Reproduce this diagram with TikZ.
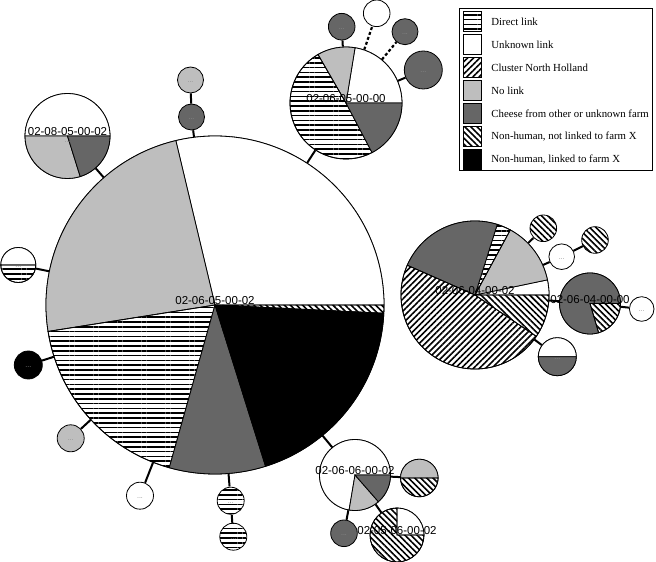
\documentclass[tikz,border=0pt]{standalone}
\usepackage{fontspec}
\setmainfont{Liberation Serif}
\newfontfamily\clusterfont{Liberation Sans}
\usetikzlibrary{positioning, patterns.meta}
\definecolor{LightGrey}{RGB}{190,190,190}
\definecolor{DarkGrey}{RGB}{102,102,102}

% one slice of a pie: node, radius, start angle, end angle, style
\newcommand{\wedgepart}[5]{%
  \filldraw[line width=0.8pt, #5] (#1.center) -- ++(#3:#2)
    arc[start angle=#3, end angle=#4, radius=#2] -- cycle;}

\begin{document}
\begin{tikzpicture}[
    x=1pt, y=1pt,
    pie/.style={circle, draw, line width=0.8pt, inner sep=0pt, minimum size=#1},
    link/.style={line width=2pt},
    weaklink/.style={line width=2.2pt, dash pattern=on 3pt off 2.2pt},
    directlink/.style={pattern={Lines[angle=0, distance=4.8pt, line width=1.5pt]}},
    unknownlink/.style={fill=white},
    nhcluster/.style={pattern={Lines[angle=45, distance=4.3pt, line width=1.6pt]}},
    nolink/.style={fill=LightGrey},
    cheese/.style={fill=DarkGrey},
    nhnot/.style={pattern={Lines[angle=-45, distance=4.3pt, line width=1.6pt]}},
    nhlinked/.style={fill=black},
    clustername/.style={font=\clusterfont\fontsize{11.5}{12}\selectfont, anchor=base, inner sep=0pt},
    elide/.style={font=\clusterfont\fontsize{7}{7}\selectfont, text=black!45, inner sep=0pt},
    swatch/.style={draw, line width=0.8pt, minimum width=18pt, minimum height=20pt, inner sep=0pt},
    keytext/.style={font=\fontsize{10.8}{12}\selectfont, inner sep=0pt}
]
    \useasboundingbox (0,0) rectangle (656,562);

    % Clusters
    \node[pie=338pt] (main) at (215,257) {};
    \node[pie=112pt] (toppie) at (346,459) {};
    \node[pie=85pt] (leftpie) at (67.5,426) {};
    \node[pie=148pt] (rightpie) at (475,267) {};
    \node[pie=61pt] (sidepie) at (590,258.5) {};
    \node[pie=71pt] (botpie) at (355,87) {};
    \node[pie=54pt] (lowpie) at (397,27) {};

    % Single cases
    \node[pie=26pt, nolink] (a1) at (190.5,482) {};
    \node[pie=26pt, cheese] (a2) at (191.5,445) {};
    \node[pie=35pt] (b1) at (18.3,297) {};
    \node[pie=28pt, nhlinked] (b2) at (28.3,197) {};
    \node[pie=27pt, nolink] (b3) at (70.7,123.7) {};
    \node[pie=27pt] (b4) at (140,66.3) {};
    \node[pie=27pt, directlink] (b5) at (230.7,61.3) {};
    \node[pie=27pt, directlink] (b6) at (233.3,25.3) {};
    \node[pie=26.6pt, cheese] (t1) at (341.7,535.3) {};
    \node[pie=26.6pt] (t2) at (376.7,548.7) {};
    \node[pie=26pt, cheese] (t3) at (405,530.3) {};
    \node[pie=38pt, cheese] (t4) at (423.3,492) {};
    \node[pie=26.6pt, nhnot] (r1) at (543.3,333.7) {};
    \node[pie=25.6pt] (r2) at (561.7,305.3) {};
    \node[pie=26.6pt, nhnot] (r3) at (595,322) {};
    \node[pie=24.6pt] (r4) at (641.7,253) {};
    \node[pie=38pt] (r5) at (557.3,205.3) {};
    \node[pie=37.6pt] (u1) at (419.3,84) {};
    \node[pie=26.6pt, cheese] (u2) at (344,28.7) {};

    % Links
    \foreach \a/\b in {main/a2, a2/a1, main/toppie, main/leftpie, main/b1, main/b2,
                       main/b3, main/b4, main/b5, b5/b6, main/botpie,
                       toppie/t1, toppie/t4, rightpie/r1, rightpie/r2, r2/r3,
                       rightpie/sidepie, sidepie/r4, rightpie/r5,
                       botpie/u1, botpie/lowpie, botpie/u2}
        \draw[link] (\a) -- (\b);
    \draw[weaklink] (toppie) -- (t2);
    \draw[weaklink] (toppie) -- (t3);

    % Pie slices
    \wedgepart{main}{169}{0}{103.4}{unknownlink}
    \wedgepart{main}{169}{103.4}{189}{nolink}
    \wedgepart{main}{169}{189}{254.3}{directlink}
    \wedgepart{main}{169}{254.3}{287.4}{cheese}
    \wedgepart{main}{169}{287.4}{357.2}{nhlinked}
    \wedgepart{main}{169}{357.2}{360}{nhnot}

    \wedgepart{toppie}{56}{0}{80.7}{unknownlink}
    \wedgepart{toppie}{56}{80.7}{120}{nolink}
    \wedgepart{toppie}{56}{120}{297.7}{directlink}
    \wedgepart{toppie}{56}{297.7}{360}{cheese}

    \wedgepart{leftpie}{42.5}{0}{180}{unknownlink}
    \wedgepart{leftpie}{42.5}{180}{287.4}{nolink}
    \wedgepart{leftpie}{42.5}{287.4}{360}{cheese}

    \wedgepart{rightpie}{74}{0}{11.8}{unknownlink}
    \wedgepart{rightpie}{74}{11.8}{61.5}{nolink}
    \wedgepart{rightpie}{74}{61.5}{72.5}{directlink}
    \wedgepart{rightpie}{74}{72.5}{156.3}{cheese}
    \wedgepart{rightpie}{74}{156.3}{326}{nhcluster}
    \wedgepart{rightpie}{74}{326}{360}{nhnot}

    \wedgepart{sidepie}{30.5}{0}{286.4}{cheese}
    \wedgepart{sidepie}{30.5}{286.4}{360}{nhnot}

    \wedgepart{botpie}{35.5}{0}{260.4}{unknownlink}
    \wedgepart{botpie}{35.5}{260.4}{311.2}{nolink}
    \wedgepart{botpie}{35.5}{311.2}{360}{cheese}

    \wedgepart{lowpie}{27}{0}{90}{unknownlink}
    \wedgepart{lowpie}{27}{90}{360}{nhnot}

    \wedgepart{b1}{17.5}{0}{180}{unknownlink}
    \wedgepart{b1}{17.5}{180}{360}{directlink}
    \wedgepart{u1}{18.8}{0}{180}{nolink}
    \wedgepart{u1}{18.8}{180}{360}{nhnot}
    \wedgepart{r5}{19}{0}{180}{unknownlink}
    \wedgepart{r5}{19}{180}{360}{cheese}

    % Cluster names
    \node[clustername] at (main) {02-06-05-00-02};
    \node[clustername] at (toppie) {02-06-05-00-00};
    \node[clustername] at (leftpie) {02-08-05-00-02};
    \node[clustername] at (rightpie) {02-06-04-00-02};
    \node[clustername] at (sidepie) {02-06-04-00-00};
    \node[clustername] at (botpie) {02-06-06-00-02};
    \node[clustername] at (lowpie) {02-05-06-00-02};

    \foreach \n in {a1, a2, b1, b2, b3, b4, b5, b6, t1, t3, t4, r2, r4, r5, u2}
        \node[elide] at ([yshift=-2pt]\n.center) {...};
    \node[elide] at ([yshift=-6pt]leftpie.center) {...};

    % Legend
    \draw[line width=0.8pt] (459,392) rectangle (652.7,553.7);
    \node[swatch, directlink] (k1) at (472.5,540.3) {};
    \node[swatch, unknownlink, below=2.2pt of k1] (k2) {};
    \node[swatch, nhcluster, below=2.2pt of k2] (k3) {};
    \node[swatch, nolink, below=2.2pt of k3] (k4) {};
    \node[swatch, cheese, below=2.2pt of k4] (k5) {};
    \node[swatch, nhnot, below=2.2pt of k5] (k6) {};
    \node[swatch, nhlinked, below=2.2pt of k6] (k7) {};
    \node[keytext, right=9.3pt of k1] {Direct link};
    \node[keytext, right=9.3pt of k2] {Unknown link};
    \node[keytext, right=9.3pt of k3] {Cluster North Holland};
    \node[keytext, right=9.3pt of k4] {No link};
    \node[keytext, right=9.3pt of k5] {Cheese from other or unknown farm};
    \node[keytext, right=9.3pt of k6] {Non-human, not linked to farm X};
    \node[keytext, right=9.3pt of k7] {Non-human, linked to farm X};
\end{tikzpicture}
\end{document}
